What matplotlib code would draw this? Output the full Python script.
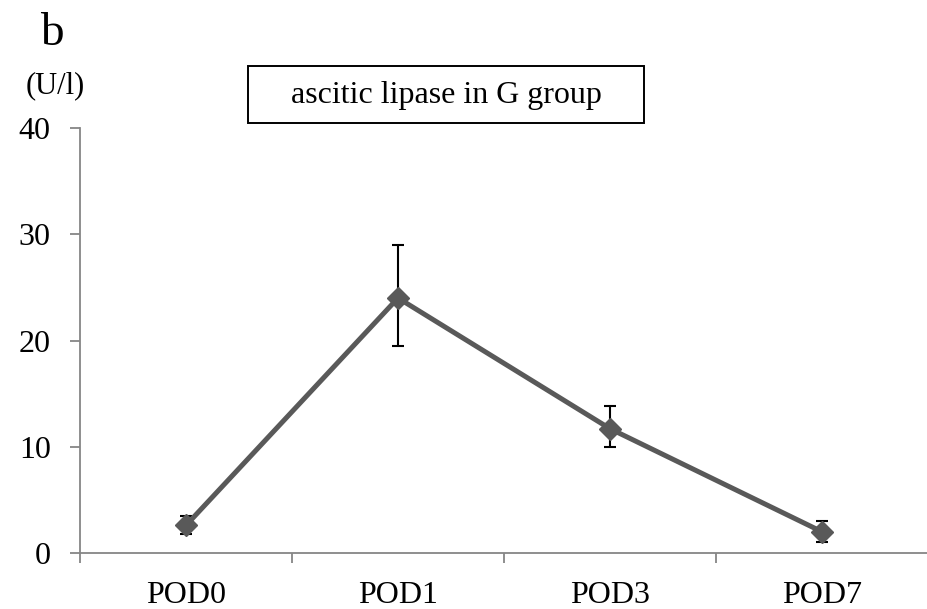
import numpy as np
import matplotlib.pyplot as plt
from matplotlib.patches import Rectangle

plt.rcParams['font.family'] = ['Liberation Serif', 'DejaVu Serif']

days = ['POD0', 'POD1', 'POD3', 'POD7']
lipase = [2.6, 24.0, 11.7, 2.0]
err_hi = [0.9, 5.0, 2.1, 1.0]
err_lo = [0.85, 4.5, 1.75, 0.95]
yticks = [0, 10, 20, 30, 40]

fig = plt.figure(figsize=(9.28, 6.09), dpi=100)
ax = fig.add_axes([80/928, 56/609, 848/928, 425/609])

x = np.arange(len(days))
ax.errorbar(x, lipase, yerr=[err_lo, err_hi], fmt='none', ecolor='black',
            elinewidth=1.5, capsize=4, capthick=1.5, zorder=2)
ax.plot(x, lipase, color='#595959', lw=3.6, marker='D', markersize=11,
        markerfacecolor='#595959', markeredgecolor='#595959', zorder=3)

ax.set_xlim(-0.5, 3.5)
ax.set_ylim(0, 40)
ax.set_yticks(yticks)
ax.set_xticks(x)
ax.set_xticklabels(days)
ax.set_xticks(np.arange(-0.5, 3.6, 1), minor=True)
ax.tick_params(axis='x', which='major', length=0, pad=20, labelsize=23)
ax.tick_params(axis='x', which='minor', length=7, width=1.3, color='#868686')
ax.tick_params(axis='y', length=7, width=1.3, color='#868686', labelsize=23, pad=14)

for s in ['top', 'right']:
    ax.spines[s].set_visible(False)
for s in ['left', 'bottom']:
    ax.spines[s].set_color('#868686')
    ax.spines[s].set_linewidth(1.3)
ax.spines['bottom'].set_clip_on(False)

fig.text(55/928, 1 - 86/609, '(U/l)', fontsize=22, ha='center', va='center')
fig.text(52/928, 1 - 45/609, 'b', fontsize=34, ha='center', va='baseline')

fig.patches.append(Rectangle((248/928, 1 - 123/609), 396/928, 57/609,
                             transform=fig.transFigure, fc='white', ec='black',
                             lw=1.4, zorder=5))
fig.text(446/928, 1 - 95/609, 'ascitic lipase in G group', fontsize=23,
         ha='center', va='center', zorder=6)

fig.savefig('out.png', dpi=100)
